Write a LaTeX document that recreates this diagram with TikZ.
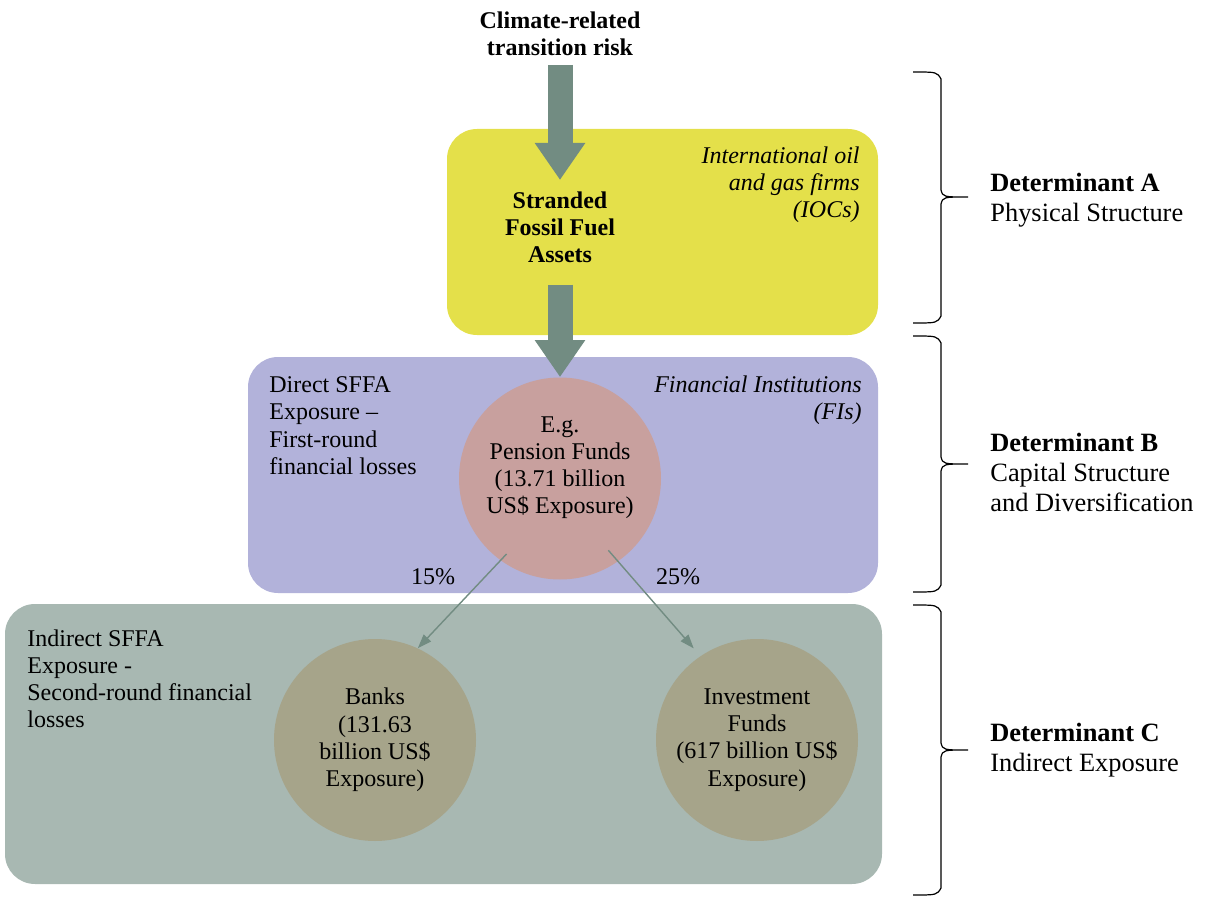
\documentclass[tikz,border=0pt]{standalone}
\usepackage{fontspec}
\setmainfont{Liberation Serif}
\usetikzlibrary{arrows.meta,positioning}
\usepackage{xcolor}
\definecolor{IocYellow}{HTML}{E4E04A}
\definecolor{FiPurple}{HTML}{B2B2DA}
\definecolor{IndGray}{HTML}{A8B8B2}
\definecolor{PensionRose}{HTML}{C8A09E}
\definecolor{BankOlive}{HTML}{A6A48A}
\definecolor{Flow}{HTML}{728C82}
\newcommand{\bodysize}{\fontsize{12}{13.6}\selectfont}
\newcommand{\detsize}{\fontsize{13.2}{15}\selectfont}

\begin{document}
\begin{tikzpicture}[x=0.5pt,y=-0.5pt,font=\bodysize,
    txt/.style={inner sep=0pt},
    layer/.style={rounded corners=15pt,inner sep=0pt},
    inst/.style={circle,inner sep=0pt,minimum size=101pt,align=center},
    bigarrow/.style={draw=Flow,line width=12.5pt,-{Triangle[width=24pt,length=18.5pt]}},
    thinarrow/.style={draw=Flow,line width=0.7pt,-{Triangle[width=5pt,length=7pt]}},
    detbrace/.style={draw=black,line width=0.6pt},
    det/.style={inner sep=0pt,align=left,anchor=north west,font=\detsize}]
  \useasboundingbox (0,0) rectangle (1206,899);

  % the three layers
  \node[layer,fill=IocYellow,minimum width=215.5pt,minimum height=103pt] (ioc) at (662.5,232) {};
  \node[layer,fill=FiPurple,minimum width=315pt,minimum height=118pt] (fi) at (563,475) {};
  \node[layer,fill=IndGray,minimum width=438.5pt,minimum height=140pt] (indirect) at (443.5,744) {};

  \node[txt,align=center,anchor=north,font=\bodysize\bfseries] (risk) at (560,11) {Climate-related\\transition risk};
  \node[txt,align=center,anchor=north,font=\bodysize\bfseries] (stranded) at (560,191.5) {Stranded\\Fossil Fuel\\Assets};
  \node[txt,align=right,anchor=north east,font=\bodysize\itshape] (iocs) at (860,146) {International oil\\and gas firms\\(IOCs)};

  \node[txt,align=left,anchor=north west] (direct) at (269,376.5) {Direct SFFA\\Exposure --\\First-round\\financial losses};
  \node[txt,align=right,anchor=north east,font=\bodysize\itshape] (fis) at (862,375) {Financial Institutions\\(FIs)};
  \node[inst,fill=PensionRose] (pension) at (560,478.5) {};
  \node[txt,align=center,anchor=north] (pensiontext) at (560,416) {E.g.\\Pension Funds\\(13.71 billion\\US\$ Exposure)};
  \node[txt] (pctbanks) at (433,577) {15\%};
  \node[txt] (pctinvest) at (678,577) {25\%};

  \node[txt,align=left,anchor=north west] (indirecttext) at (27,629) {Indirect SFFA\\Exposure -\\Second-round financial\\losses};
  \node[inst,fill=BankOlive] (banks) at (375,740) {Banks\\(131.63\\billion US\$\\Exposure)};
  \node[inst,fill=BankOlive] (invest) at (757,740) {Investment\\Funds\\(617 billion US\$\\Exposure)};

  % flows
  \draw[bigarrow,shorten <=4.5pt,shorten >=5.75pt] (risk) -- (stranded);
  \draw[bigarrow,shorten <=10.5pt] (stranded) -- (pension);
  \draw[thinarrow,shorten <=-4.5pt] (pension.234) -- (banks.65);
  \draw[thinarrow,shorten <=-7.5pt,shorten >=5pt] (pension.305) -- (invest.124);

  % determinants
  \foreach \ya/\ym/\yb in {72/197/323,336/464/592,605/750/895}
    \draw[detbrace] (913,\ya) .. controls (937,\ya) .. (941,\ya+7) -- (941,\ym-7)
      .. controls (943,\ym) .. (968,\ym) .. controls (943,\ym) .. (941,\ym+7)
      -- (941,\yb-7) .. controls (937,\yb) .. (913,\yb);
  \node[det] (deta) at (990,173) {\textbf{Determinant A}\\Physical Structure};
  \node[det] (detb) at (990,433) {\textbf{Determinant B}\\Capital Structure\\and Diversification};
  \node[det] (detc) at (990,723) {\textbf{Determinant C}\\Indirect Exposure};
\end{tikzpicture}
\end{document}
